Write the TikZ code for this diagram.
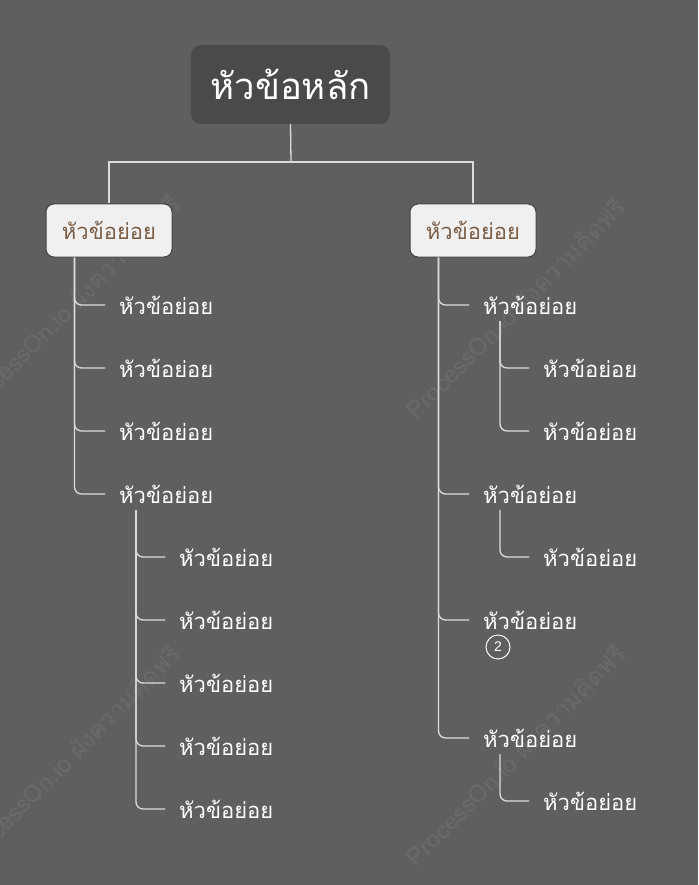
\documentclass[tikz,border=0pt]{standalone}
\usepackage{fontspec}
\setmainfont{Liberation Sans}
\newfontfamily\thai[Script=Thai]{Loma}
\usetikzlibrary{calc}
\definecolor{bgc}{HTML}{5F5F5F}
\definecolor{mainc}{HTML}{4A4A4A}
\definecolor{linec}{HTML}{DCDCDC}
\definecolor{subfill}{HTML}{F0F0F0}
\definecolor{subborder}{HTML}{444444}
\definecolor{brownc}{HTML}{7B5E45}
\tikzset{
  mainbox/.style={fill=mainc, rounded corners=10pt, minimum width=199pt, minimum height=79pt, text=white, font=\thai\fontsize{36.5}{42}\selectfont, inner sep=0pt},
  subbox/.style={fill=subfill, draw=subborder, line width=1pt, rounded corners=8pt, minimum width=126pt, minimum height=53pt, text=brownc, font=\thai\fontsize{22}{26}\selectfont, inner sep=0pt},
  item/.style={anchor=west, text=white, font=\thai\fontsize{22}{26}\selectfont, inner sep=0pt},
  conn/.style={draw=linec, line width=1.3pt},
  elbow/.style={conn, rounded corners=7pt},
  badge/.style={circle, draw=white, line width=1pt, minimum size=24pt, inner sep=0pt, text=white, font=\fontsize{14}{16}\selectfont},
  wmark/.style={rotate=45, text=white, opacity=0.07, font=\thai\fontsize{24}{28}\selectfont}
}
\begin{document}
\begin{tikzpicture}[x=1pt,y=-1pt]
\useasboundingbox (0,0) rectangle (698,885);
\fill[bgc] (0,0) rectangle (698,885);
% watermarks
\node[wmark] (w1) at (70,305) {ProcessOn.io ผังความคิดฟรี};
\node[wmark] (w2) at (515,308) {ProcessOn.io ผังความคิดฟรี};
\node[wmark] (w3) at (70,755) {ProcessOn.io ผังความคิดฟรี};
\node[wmark] (w4) at (515,755) {ProcessOn.io ผังความคิดฟรี};
% main
\node[mainbox] (M) at (290.5,84.5) {หัวข้อหลัก};
\node[subbox] (L) at (109,230.5) {หัวข้อย่อย};
\node[subbox] (R) at (473,230.5) {หัวข้อย่อย};
\coordinate (J) at (291,162);
\draw[conn] (M.south) -- (J);
\draw[conn] (J) -| (L.north);
\draw[conn] (J) -| (R.north);
% left level 1
\node[item] (a1) at (119,305) {หัวข้อย่อย};
\node[item] (a2) at (119,368) {หัวข้อย่อย};
\node[item] (a3) at (119,431) {หัวข้อย่อย};
\node[item] (a4) at (119,494) {หัวข้อย่อย};
\coordinate (Ls) at ($(L.south west)+(29,0)$);
\foreach \n in {a1,a2,a3,a4}{\draw[elbow] (Ls) |- ($(\n.west)+(-14,0)$);}
% left level 2
\node[item] (b1) at (179,557) {หัวข้อย่อย};
\node[item] (b2) at (179,620) {หัวข้อย่อย};
\node[item] (b3) at (179,683) {หัวข้อย่อย};
\node[item] (b4) at (179,746) {หัวข้อย่อย};
\node[item] (b5) at (179,809) {หัวข้อย่อย};
\coordinate (a4s) at ($(a4.west)+(17,16)$);
\foreach \n in {b1,b2,b3,b4,b5}{\draw[elbow] (a4s) |- ($(\n.west)+(-14,0)$);}
% right level 1
\node[item] (c1) at (483,305) {หัวข้อย่อย};
\node[item] (c2) at (483,494) {หัวข้อย่อย};
\node[item] (c3) at (483,620) {หัวข้อย่อย};
\node[item] (c4) at (483,738) {หัวข้อย่อย};
\coordinate (Rs) at ($(R.south west)+(29,0)$);
\foreach \n in {c1,c2,c3,c4}{\draw[elbow] (Rs) |- ($(\n.west)+(-14,0)$);}
\node[badge] (k) at (498,647) {2};
% right level 2
\node[item] (d1) at (543,368) {หัวข้อย่อย};
\node[item] (d2) at (543,431) {หัวข้อย่อย};
\node[item] (d3) at (543,557) {หัวข้อย่อย};
\node[item] (d4) at (543,801) {หัวข้อย่อย};
\coordinate (c1s) at ($(c1.west)+(17,16)$);
\coordinate (c2s) at ($(c2.west)+(17,16)$);
\coordinate (c4s) at ($(c4.west)+(17,16)$);
\draw[elbow] (c1s) |- ($(d1.west)+(-14,0)$);
\draw[elbow] (c1s) |- ($(d2.west)+(-14,0)$);
\draw[elbow] (c2s) |- ($(d3.west)+(-14,0)$);
\draw[elbow] (c4s) |- ($(d4.west)+(-14,0)$);
\end{tikzpicture}
\end{document}
